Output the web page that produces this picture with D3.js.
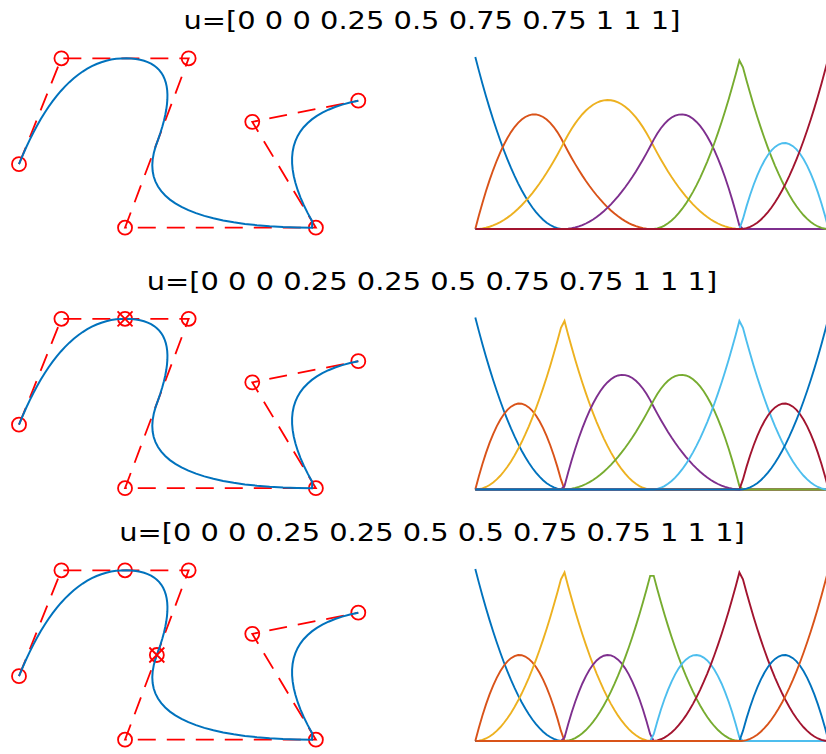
<!DOCTYPE html>
<html>
<head>
<meta charset="utf-8">
<script src="https://cdn.jsdelivr.net/npm/d3@7"></script>
<style>
  body { margin: 0; background: #fff; }
  #container { width: 826px; height: 754px; }
</style>
</head>
<body>
<div id="container"></div>
<script>
// knot vectors for the three rows (each row inserts one more knot)
var knots1 = [0, 0, 0, 0.25, 0.5, 0.75, 0.75, 1, 1, 1];
var knots2 = [0, 0, 0, 0.25, 0.25, 0.5, 0.75, 0.75, 1, 1, 1];
var knots3 = [0, 0, 0, 0.25, 0.25, 0.5, 0.5, 0.75, 0.75, 1, 1, 1];

// control points
var ctrlX1 = [0, 0.5, 2, 1.25, 3.5, 2.75, 4];
var ctrlY1 = [0.75, 2, 2, 0, 0, 1.25, 1.5];
var ctrlX2 = [0, 0.5, 1.25, 2, 1.25, 3.5, 2.75, 4];
var ctrlY2 = [0.75, 2, 2, 2, 0, 0, 1.25, 1.5];
var ctrlX3 = [0, 0.5, 1.25, 2, 1.625, 1.25, 3.5, 2.75, 4];
var ctrlY3 = [0.75, 2, 2, 2, 1, 0, 0, 1.25, 1.5];

// index of the newly inserted control point (marked with x)
var inserted = [-1, 2, 4];

var degree = 2;
var colorOrder = ["#0072BD", "#D95319", "#EDB120", "#7E2F8E", "#77AC30", "#4DBEEE", "#A2142F"];

// parameter grid, like linspace(0,1,100)
var uGrid = d3.range(100).map(function (i) { return i / 99; });

var rows = [
  {knots: knots1, x: ctrlX1, y: ctrlY1, ins: inserted[0]},
  {knots: knots2, x: ctrlX2, y: ctrlY2, ins: inserted[1]},
  {knots: knots3, x: ctrlX3, y: ctrlY3, ins: inserted[2]}
];
var rowTop = [57, 317.5, 569];
var rowH = 172;

var svg = d3.select("#container")
            .append("svg")
                .attr("width", 826)
                .attr("height", 754);

svg.append("rect").attr("width", 826).attr("height", 754).attr("fill", "#fff");

// Cox-de Boor
function basis(i, p, u, t) {
  var last = t[t.length - 1];
  if (p == 0) {
    if (t[i] <= u && u < t[i + 1]) return 1;
    if (u == last && t[i] < t[i + 1] && t[i + 1] == last) return 1;
    return 0;
  }
  var a = 0, b = 0;
  if (t[i + p] - t[i] != 0) a = (u - t[i]) / (t[i + p] - t[i]) * basis(i, p - 1, u, t);
  if (t[i + p + 1] - t[i + 1] != 0) b = (t[i + p + 1] - u) / (t[i + p + 1] - t[i + 1]) * basis(i + 1, p - 1, u, t);
  return a + b;
}

var xL = d3.scaleLinear().domain([0, 4]).range([19, 358.3]);
var xR = d3.scaleLinear().domain([0, 1]).range([475.3, 828.6]);

rows.forEach(function (row, r) {
  var top = rowTop[r];
  var yL = d3.scaleLinear().domain([0, 2]).range([top + 170.7, top + 1.3]);
  var yR = d3.scaleLinear().domain([0, 1]).range([top + rowH, top]);
  var n = row.x.length;
  var pts = d3.zip(row.x, row.y);

  // title
  var title = svg.append("text")
    .attr("font-family", "DejaVu Sans, Verdana, sans-serif")
    .attr("font-size", 25)
    .attr("text-anchor", "middle")
    .attr("fill", "#000")
    .text("u=[" + row.knots.join(" ") + "]");
  title.attr("transform", "translate(432," + (top - 28) + ") scale(1.156,1)");

  // control polygon
  var g = svg.append("g");
  g.append("path")
    .datum(pts)
    .attr("d", d3.line().x(function (d) { return xL(d[0]); }).y(function (d) { return yL(d[1]); }))
    .attr("fill", "none")
    .attr("stroke", "#FF0000")
    .attr("stroke-width", 1.8)
    .attr("stroke-dasharray", "18,11");

  g.selectAll("circle")
    .data(pts)
    .enter()
    .append("circle")
      .attr("cx", function (d) { return xL(d[0]); })
      .attr("cy", function (d) { return yL(d[1]); })
      .attr("r", 7)
      .attr("fill", "none")
      .attr("stroke", "#FF0000")
      .attr("stroke-width", 1.8);

  // spline curve
  var curve = uGrid.map(function (u) {
    var cx = 0, cy = 0;
    for (var i = 0; i < n; i++) {
      var N = basis(i, degree, u, row.knots);
      cx += N * row.x[i];
      cy += N * row.y[i];
    }
    return [cx, cy];
  });
  g.append("path")
    .datum(curve)
    .attr("d", d3.line().x(function (d) { return xL(d[0]); }).y(function (d) { return yL(d[1]); }))
    .attr("fill", "none")
    .attr("stroke", "#0072BD")
    .attr("stroke-width", 2);

  // inserted point
  if (row.ins >= 0) {
    var px = xL(row.x[row.ins]), py = yL(row.y[row.ins]);
    g.append("path")
      .attr("d", "M" + (px - 7.5) + "," + (py - 7.5) + "L" + (px + 7.5) + "," + (py + 7.5) +
                 "M" + (px - 7.5) + "," + (py + 7.5) + "L" + (px + 7.5) + "," + (py - 7.5))
      .attr("stroke", "#FF0000")
      .attr("stroke-width", 1.8)
      .attr("fill", "none");
  }

  // basis functions
  var gb = svg.append("g");
  for (var i = 0; i < n; i++) {
    var vals = uGrid.map(function (u) { return [u, basis(i, degree, u, row.knots)]; });
    gb.append("path")
      .datum(vals)
      .attr("d", d3.line().x(function (d) { return xR(d[0]); }).y(function (d) { return yR(d[1]); }))
      .attr("fill", "none")
      .attr("stroke", colorOrder[i % colorOrder.length])
      .attr("stroke-width", 1.9);
  }
});
</script>
</body>
</html>
